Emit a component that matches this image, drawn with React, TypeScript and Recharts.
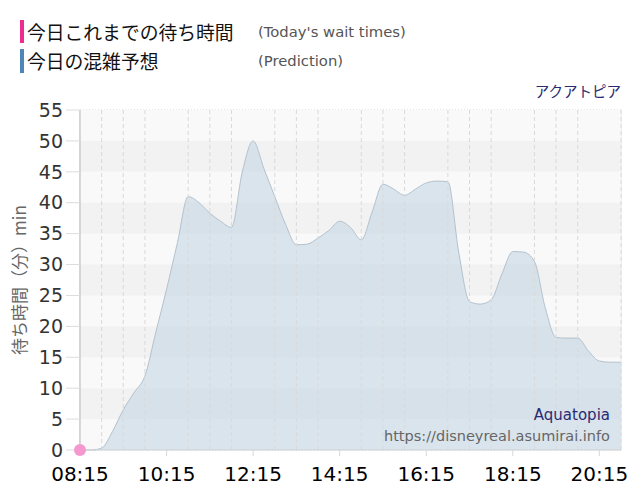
import { ComposedChart, Area, Line, XAxis, YAxis, CartesianGrid, ReferenceLine, ReferenceArea } from 'recharts'

const times = [
  '08:15', '08:30', '08:45', '09:00', '09:15', '09:30', '09:45',
  '10:00', '10:15', '10:30', '10:45', '11:00', '11:15', '11:30', '11:45',
  '12:00', '12:15', '12:30', '12:45', '13:00', '13:15', '13:30', '13:45',
  '14:00', '14:15', '14:30', '14:45', '15:00', '15:15', '15:30', '15:45',
  '16:00', '16:15', '16:30', '16:45', '17:00', '17:15', '17:30', '17:45',
  '18:00', '18:15', '18:30', '18:45', '19:00', '19:15', '19:30', '19:45',
  '20:00', '20:15', '20:30', '20:45',
]

// 予想 (prediction)
const prediction = [
  0, 0, 0.3, 3, 6.5, 9.3, 12,
  19, 26, 33.5, 41, 40, 38.3, 37, 36,
  45, 50, 45.5, 41, 36.5, 33.2, 33.3, 34.3,
  35.5, 37, 36, 34, 38.5, 43, 42.2, 41.2,
  42.2, 43.2, 43.5, 43.4, 32, 24, 23.6, 24.3,
  28.5, 32.1, 32, 30.5, 23, 18.2, 18.1, 18.1,
  16, 14.4, 14.2, 14.2,
]

// 今日これまで (only the first reading so far)
const actual = [0]

const yTicks = [0, 5, 10, 15, 20, 25, 30, 35, 40, 45, 50, 55]
const shadedBands = [[5, 10], [15, 20], [25, 30], [35, 40], [45, 50]]
const halfHourLines = times.filter((_, i) => i % 2 === 0 && i % 8 !== 0)

const data = times.map((t, i) => ({
  time: t,
  prediction: prediction[i],
  actual: i < actual.length ? actual[i] : null,
}))

const jp = '"Noto Sans CJK JP", sans-serif'
const latin = '"DejaVu Sans", Verdana, sans-serif'

export default function App() {
  return (
    <div style={{ position: 'relative', width: 640, height: 500, margin: -8, background: '#fff' }}>
      {/* legend */}
      <div style={{ position: 'absolute', left: 20, top: 20, width: 4, height: 23, background: '#ec2d8f' }} />
      <div style={{ position: 'absolute', left: 27, top: 20, fontFamily: jp, fontSize: 18.8, lineHeight: '23px', color: '#111' }}>
        今日これまでの待ち時間
      </div>
      <div style={{ position: 'absolute', left: 258, top: 21, fontFamily: latin, fontSize: 14.8, lineHeight: '21px', color: '#555' }}>
        (Today's wait times)
      </div>
      <div style={{ position: 'absolute', left: 20, top: 49, width: 4, height: 24, background: '#4f86b8' }} />
      <div style={{ position: 'absolute', left: 27, top: 49, fontFamily: jp, fontSize: 18.8, lineHeight: '23px', color: '#111' }}>
        今日の混雑予想
      </div>
      <div style={{ position: 'absolute', left: 258, top: 50, fontFamily: latin, fontSize: 14.8, lineHeight: '21px', color: '#555' }}>
        (Prediction)
      </div>
      <div style={{ position: 'absolute', right: 19, top: 81, fontFamily: jp, fontSize: 14.5, lineHeight: '20px', color: '#2a2a72' }}>
        アクアトピア
      </div>

      <ComposedChart width={640} height={500} data={data} margin={{ top: 110, right: 19, bottom: 0, left: 0 }}>
        <ReferenceArea y1={0} y2={55} fill="#f9f9f9" fillOpacity={1} stroke="none" />
        {shadedBands.map(([a, b]) => (
          <ReferenceArea key={a} y1={a} y2={b} fill="#f2f2f2" fillOpacity={1} stroke="none" />
        ))}
        <CartesianGrid vertical={false} stroke="#c8c8c8" strokeDasharray="1 2" />
        {halfHourLines.map((t) => (
          <ReferenceLine key={t} x={t} stroke="#d9d9d9" strokeDasharray="4 3" />
        ))}
        <CartesianGrid horizontal={false} stroke="#e0e0e0" />
        <XAxis
          dataKey="time"
          interval={7}
          height={50}
          axisLine={{ stroke: '#d0d0d0' }}
          tickLine={{ stroke: '#d8d8d8' }}
          tickSize={6}
          tickMargin={11}
          tick={{ fill: '#000', fontSize: 20, fontFamily: latin }}
        />
        <YAxis
          domain={[0, 55]}
          ticks={yTicks}
          width={80}
          axisLine={{ stroke: '#b8b8b8' }}
          tickLine={{ stroke: '#dcdcdc' }}
          tickSize={14}
          tickMargin={3}
          tick={{ fill: '#333', fontSize: 19, fontFamily: latin }}
        />
        <Area
          type="monotone"
          dataKey="prediction"
          stroke="#b3c2ce"
          strokeWidth={1}
          fill="#c6d7e4"
          fillOpacity={0.62}
          isAnimationActive={false}
        />
        <Line
          type="monotone"
          dataKey="actual"
          stroke="#ec2d8f"
          strokeWidth={2}
          dot={{ r: 6, fill: '#f598cf', stroke: 'none' }}
          isAnimationActive={false}
        />
      </ComposedChart>

      {/* axis title */}
      <div
        style={{
          position: 'absolute', left: 18, top: 280, transform: 'translate(-50%, -50%) rotate(-90deg)',
          whiteSpace: 'nowrap', fontFamily: jp, fontSize: 17, color: '#666',
        }}
      >
        待ち時間（分）min
      </div>
      <div style={{ position: 'absolute', right: 30, top: 405, fontFamily: latin, fontSize: 15, lineHeight: '20px', color: '#2a2a72' }}>
        Aquatopia
      </div>
      <div style={{ position: 'absolute', right: 30, top: 426, fontFamily: latin, fontSize: 14.5, lineHeight: '20px', color: '#666' }}>
        https://disneyreal.asumirai.info
      </div>
    </div>
  )
}
